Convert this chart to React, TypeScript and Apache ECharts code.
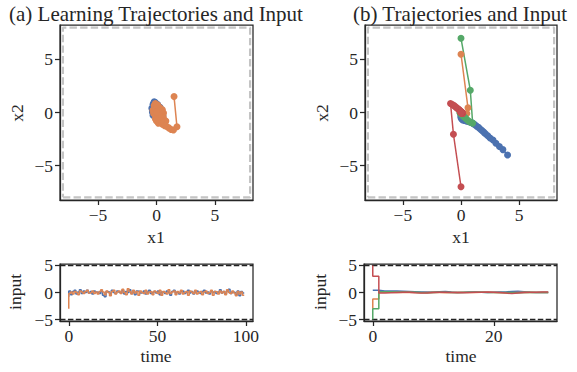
import React, { useEffect, useRef } from "react";
import * as echarts from "echarts";

// ---------- data ----------
const C_BLUE = "#4C72B0";
const C_ORANGE = "#DD8452";
const C_GREEN = "#55A868";
const C_RED = "#C44E52";

const stateBound = 8;
const inputBound = 5;

const phaseTicks = [-5, 0, 5];
const learnTimeTicks = [0, 50, 100];
const evalTimeTicks = [0, 20];
const inputTicks = [-5, 0, 5];

// (a) learning trajectories in phase plane
const learnBlueX = [-0.2, -0.3, -0.4, -0.35, -0.3, -0.1, 0.15, 0.35, 0.45, 0.5, 0.45, 0.3, 0.1, -0.1, -0.25, -0.3, -0.35, -0.2, 0.0, 0.25, 0.4, 0.45, 0.3, 0.15, -0.05, -0.2, -0.25, -0.15, 0.05, 0.25, 0.35, 0.2, 0.0, -0.15, -0.1, 0.1, 0.2, 0.05, 0.5, 0.55, 0.4, 0.2];
const learnBlueY = [1.0, 0.75, 0.4, 0.05, -0.25, -0.45, -0.55, -0.5, -0.3, -0.05, 0.25, 0.5, 0.75, 0.95, 0.85, 0.5, 0.15, -0.2, -0.4, -0.45, -0.2, 0.1, 0.35, 0.55, 0.7, 0.6, 0.3, 0.0, -0.2, -0.3, 0.0, 0.25, 0.4, 0.3, 0.05, -0.1, 0.05, 0.15, -0.5, -0.3, -0.6, -0.65];
const learnOrangeX = [1.5, 1.75, 1.45, 1.25, 1.05, 0.85, 0.7, 0.5, 0.3, 0.15, 0.0, -0.1, 0.1, 0.35, 0.55, 0.4, 0.2, -0.05, -0.2, -0.1, 0.1, 0.3, 0.5, 0.6, 0.45, 0.2, -0.05, -0.25, -0.3, -0.15, 0.05, 0.25, 0.4, 0.3, 0.1, -0.1, -0.2, -0.05, 0.15, 0.25, 0.1, 0.0, 0.6, 0.8, 0.6, 0.4, 0.2, 0.05];
const learnOrangeY = [1.5, -1.35, -1.65, -1.6, -1.45, -1.3, -1.25, -1.1, -0.95, -1.0, -0.8, -0.6, -0.4, -0.55, -0.3, 0.0, 0.2, 0.4, 0.65, 0.85, 0.7, 0.45, 0.25, -0.05, -0.35, -0.5, -0.35, -0.1, 0.2, 0.5, 0.6, 0.35, 0.1, -0.2, -0.3, -0.15, 0.1, 0.3, 0.15, -0.05, -0.1, 0.05, -0.55, -0.8, -0.95, -0.75, -0.6, -0.7];

// (a) learning inputs, t = 0..99
const learnBlueU = [
  -0.8, 0.3, -0.4, 0.2, 0.4, -0.3, 0.1, 0.5, -0.2, 0.3,
  0.0, 0.4, -0.1, 0.2, -0.3, 0.3, 0.1, 0.0, -0.2, 0.3,
  -0.5, -0.8, 0.2, 0.1, -0.3, 0.4, 0.0, -0.2, 0.3, 0.1,
  -0.1, 0.4, -0.3, 0.2, 0.0, 0.5, -0.2, 0.1, -0.4, 0.3,
  0.2, -0.1, 0.0, 0.3, -0.3, 0.1, 0.4, -0.2, 0.0, 0.2,
  -0.1, 0.3, -0.4, 0.1, 0.2, -0.2, 0.3, 0.0, -0.5, 0.2,
  0.4, -0.1, 0.1, -0.3, 0.2, 0.3, -0.2, 0.0, 0.4, -0.1,
  0.2, -0.3, 0.1, 0.3, 0.0, -0.2, 0.2, 0.4, -0.1, 0.1,
  -0.3, 0.3, 0.0, 0.2, -0.2, 0.1, 0.5, -0.1, 0.2, -0.3,
  0.3, 0.6, -0.2, 0.1, 0.0, -0.4, 0.3, -0.6, 0.2, -0.1,
];
const learnOrangeU = [
  -3.0, -0.2, 0.1, -0.3, 0.2, 0.0, -0.4, 0.3, 0.1, -0.2,
  0.2, 0.4, -0.1, 0.0, 0.3, -0.2, 0.1, -0.3, 0.2, 0.5,
  0.1, -0.4, 0.3, 0.0, -0.6, 0.2, 0.4, -0.3, 0.1, 0.3,
  -0.2, 0.6, 0.0, -0.4, 0.7, 0.2, -0.3, 0.4, -0.1, 0.2,
  -0.5, 0.3, 0.0, -0.2, 0.4, -0.3, 0.1, 0.2, -0.4, 0.3,
  0.1, -0.2, 0.4, -0.5, 0.2, 0.0, -0.3, 0.5, -0.2, 0.1,
  0.3, -0.4, 0.2, -0.1, 0.4, -0.3, 0.0, 0.2, -0.5, 0.3,
  0.1, -0.2, 0.4, -0.3, 0.0, 0.2, -0.4, 0.1, 0.3, -0.2,
  0.0, 0.4, -0.5, 0.2, 0.1, -0.3, 0.3, -0.1, 0.2, -0.4,
  0.5, 0.0, -0.2, 0.3, -0.1, -0.6, 0.2, -0.3, 0.1, -0.5,
];

// (b) evaluation trajectories in phase plane (30 steps)
const evalBlueX = [4.0, 3.6, 3.3, 3.0, 2.75, 2.5, 2.3, 2.1, 1.95, 1.8, 1.65, 1.5, 1.35, 1.2, 1.05, 0.9, 0.75, 0.6, 0.45, 0.3, 0.15, 0.05, 0.0, 0.0, 0.0, 0.02, 0.03, 0.03, 0.02, 0.01];
const evalBlueY = [-4.0, -3.5, -3.2, -2.9, -2.6, -2.4, -2.2, -2.0, -1.85, -1.7, -1.55, -1.4, -1.3, -1.15, -1.05, -0.95, -0.9, -0.85, -0.8, -0.75, -0.7, -0.6, -0.5, -0.4, -0.3, -0.22, -0.15, -0.1, -0.06, -0.03];
const evalOrangeX = [0.0, 0.6, 0.5, 0.35, 0.25, 0.15, 0.1, 0.05, 0.03, 0.02, 0.01, 0.0, 0.0, 0.0, 0.0, 0.0, 0.0, 0.0, 0.0, 0.0, 0.0, 0.0, 0.0, 0.0, 0.0, 0.0, 0.0, 0.0, 0.0, 0.0];
const evalOrangeY = [5.5, 0.45, -0.1, -0.25, -0.25, -0.2, -0.15, -0.1, -0.06, -0.04, -0.02, -0.01, 0.0, 0.0, 0.0, 0.0, 0.0, 0.0, 0.0, 0.0, 0.0, 0.0, 0.0, 0.0, 0.0, 0.0, 0.0, 0.0, 0.0, 0.0];
const evalGreenX = [0.0, 0.8, 1.0, 0.85, 0.7, 0.55, 0.4, 0.3, 0.2, 0.12, 0.05, 0.0, -0.05, -0.08, -0.08, -0.06, -0.04, -0.02, -0.01, 0.0, 0.0, 0.0, 0.0, 0.0, 0.0, 0.0, 0.0, 0.0, 0.0, 0.0];
const evalGreenY = [7.0, 2.1, -1.0, -0.95, -0.85, -0.7, -0.55, -0.45, -0.35, -0.25, -0.18, -0.12, -0.08, -0.05, -0.02, 0.0, 0.0, 0.0, 0.0, 0.0, 0.0, 0.0, 0.0, 0.0, 0.0, 0.0, 0.0, 0.0, 0.0, 0.0];
const evalRedX = [0.0, -0.65, -0.9, -0.75, -0.6, -0.48, -0.38, -0.3, -0.2, -0.12, -0.05, 0.0, 0.05, 0.1, 0.15, 0.12, 0.1, 0.08, 0.06, 0.04, 0.03, 0.02, 0.01, 0.0, 0.0, 0.0, 0.0, 0.0, 0.0, 0.0];
const evalRedY = [-7.0, -2.05, 0.85, 0.75, 0.65, 0.55, 0.45, 0.38, 0.3, 0.22, 0.15, 0.08, 0.03, 0.0, -0.1, -0.1, -0.08, -0.06, -0.04, -0.02, -0.01, 0.0, 0.0, 0.0, 0.0, 0.0, 0.0, 0.0, 0.0, 0.0];

// (b) evaluation inputs, t = 0..29
const evalBlueU = [0.4, 0.4, 0.3, 0.3, 0.3, 0.25, 0.2, 0.15, 0.1, 0.1, 0.1, 0.15, 0.2, 0.1, 0.05, 0.05, 0.1, 0.1, 0.05, 0.0, 0.05, 0.1, 0.1, 0.2, 0.25, 0.15, 0.05, 0.0, 0.0, 0.0];
const evalOrangeU = [-3.0, -1.2, 0.1, 0.05, 0.0, 0.0, 0.05, 0.0, -0.05, 0.0, 0.05, 0.0, -0.05, 0.0, 0.05, 0.05, 0.0, 0.0, 0.05, 0.05, 0.0, -0.05, -0.1, -0.05, 0.0, 0.05, 0.0, 0.0, 0.0, 0.0];
const evalGreenU = [-5.0, -3.0, 0.15, 0.15, 0.1, 0.1, 0.05, 0.05, 0.0, -0.05, 0.0, 0.05, 0.05, 0.0, -0.05, 0.0, 0.05, 0.05, 0.05, 0.0, 0.0, 0.0, 0.0, 0.0, -0.05, 0.0, 0.05, 0.0, 0.0, 0.0];
const evalRedU = [5.0, 3.0, -0.1, -0.05, 0.0, 0.05, 0.05, -0.05, -0.1, -0.1, 0.0, 0.05, 0.05, 0.0, -0.05, -0.05, 0.0, 0.05, 0.05, 0.1, 0.05, 0.0, -0.1, -0.2, -0.1, 0.0, 0.05, 0.05, 0.1, 0.1];

// ---------- helpers ----------
const FONT = "'Liberation Serif', 'Times New Roman', serif";
const TXT = "#262626";
const zip = (xs: number[], ys: number[]) => xs.map((x, i) => [x, ys[i]]);
const timed = (us: number[]) => us.map((u, i) => [i, u]);
const fmt = (v: number) => (v < 0 ? "\u2212" + Math.abs(v) : String(v));

const phaseMin = -8.25;
const phaseMax = 8.25;
const uMin = -5.27;
const uMax = 5.27;
const learnTMin = -4.95;
const learnTMax = 103.95;
const evalTMin = -1.45;
const evalTMax = 30.45;

function axis(gridIndex: number, min: number, max: number, ticks: number[], isX: boolean) {
  return {
    type: "value",
    gridIndex,
    min,
    max,
    axisLine: { show: true, onZero: false, lineStyle: { color: TXT, width: 1.25 } },
    splitLine: { show: false },
    axisTick: {
      show: true,
      length: 5,
      customValues: ticks,
      lineStyle: { color: TXT, width: 1.25 },
    },
    axisLabel: {
      show: true,
      customValues: ticks,
      formatter: fmt,
      fontFamily: FONT,
      fontSize: 17.5,
      color: TXT,
      margin: isX ? 6 : 7,
    },
  };
}

function traj(xi: number, yi: number, xs: number[], ys: number[], color: string) {
  return {
    type: "line",
    xAxisIndex: xi,
    yAxisIndex: yi,
    data: zip(xs, ys),
    symbol: "circle",
    symbolSize: 7,
    showSymbol: true,
    lineStyle: { color, width: 1.5 },
    itemStyle: { color },
    z: 3,
  };
}

function stepLine(xi: number, yi: number, us: number[], color: string) {
  return {
    type: "line",
    xAxisIndex: xi,
    yAxisIndex: yi,
    data: timed(us),
    step: "start",
    showSymbol: false,
    symbol: "none",
    lineStyle: { color, width: 1.5 },
    itemStyle: { color },
    z: 3,
  };
}

function boxSeries(xi: number, yi: number) {
  const b = stateBound;
  return {
    type: "line",
    xAxisIndex: xi,
    yAxisIndex: yi,
    data: [[-b, -b], [b, -b], [b, b], [-b, b], [-b, -b]],
    symbol: "none",
    lineStyle: { color: "#c4c4c4", width: 2.2, type: [7.4, 3.2] },
    z: 1,
  };
}

function boundSeries(xi: number, yi: number, tmin: number, tmax: number, level: number) {
  return {
    type: "line",
    xAxisIndex: xi,
    yAxisIndex: yi,
    data: [[tmin, level], [tmax, level]],
    symbol: "none",
    lineStyle: { color: "#222222", width: 1.5, type: [5.5, 2.4] },
    z: 2,
  };
}

function txt(text: string, x: number, y: number, size: number, rotate = false) {
  return {
    type: "text",
    x,
    y,
    rotation: rotate ? Math.PI / 2 : 0,
    style: {
      text,
      fill: TXT,
      font: `${size}px ${FONT}`,
      textAlign: "center",
      textVerticalAlign: "middle",
      align: "center",
      verticalAlign: "middle",
    },
  };
}

export default function App() {
  const ref = useRef<HTMLDivElement>(null);
  useEffect(() => {
    if (!ref.current) return;
    const chart = echarts.init(ref.current, undefined, { renderer: "svg" });
    const gridStyle = { show: true, borderColor: TXT, borderWidth: 1.25, backgroundColor: "transparent" };
    chart.setOption({
      animation: false,
      backgroundColor: "#ffffff",
      grid: [
        { left: 60, top: 25, width: 193, height: 175, ...gridStyle },
        { left: 365, top: 25, width: 192, height: 175, ...gridStyle },
        { left: 60, top: 264, width: 193, height: 57, ...gridStyle },
        { left: 364, top: 264, width: 193, height: 57, ...gridStyle },
      ],
      xAxis: [
        axis(0, phaseMin, phaseMax, phaseTicks, true),
        axis(1, phaseMin, phaseMax, phaseTicks, true),
        axis(2, learnTMin, learnTMax, learnTimeTicks, true),
        axis(3, evalTMin, evalTMax, evalTimeTicks, true),
      ],
      yAxis: [
        axis(0, phaseMin, phaseMax, phaseTicks, false),
        axis(1, phaseMin, phaseMax, phaseTicks, false),
        axis(2, uMin, uMax, inputTicks, false),
        axis(3, uMin, uMax, inputTicks, false),
      ],
      series: [
        boxSeries(0, 0),
        traj(0, 0, learnBlueX, learnBlueY, C_BLUE),
        traj(0, 0, learnOrangeX, learnOrangeY, C_ORANGE),
        boxSeries(1, 1),
        traj(1, 1, evalBlueX, evalBlueY, C_BLUE),
        traj(1, 1, evalOrangeX, evalOrangeY, C_ORANGE),
        traj(1, 1, evalGreenX, evalGreenY, C_GREEN),
        traj(1, 1, evalRedX, evalRedY, C_RED),
        stepLine(2, 2, learnBlueU, C_BLUE),
        stepLine(2, 2, learnOrangeU, C_ORANGE),
        boundSeries(2, 2, learnTMin, learnTMax, inputBound),
        boundSeries(2, 2, learnTMin, learnTMax, -inputBound),
        stepLine(3, 3, evalBlueU, C_BLUE),
        stepLine(3, 3, evalOrangeU, C_ORANGE),
        stepLine(3, 3, evalGreenU, C_GREEN),
        stepLine(3, 3, evalRedU, C_RED),
        boundSeries(3, 3, evalTMin, evalTMax, inputBound),
        boundSeries(3, 3, evalTMin, evalTMax, -inputBound),
      ],
      graphic: [
        txt("(a) Learning Trajectories and Input", 156, 14, 21),
        txt("(b) Trajectories and Input", 460, 14, 21),
        txt("x1", 156, 237, 17.5),
        txt("x1", 461, 237, 17.5),
        txt("x2", 17, 113, 17.5, true),
        txt("x2", 322, 113, 17.5, true),
        txt("input", 15, 292, 17.5, true),
        txt("input", 320, 292, 17.5, true),
        txt("time", 156, 356, 17.5),
        txt("time", 461, 356, 17.5),
      ],
    });
    return () => chart.dispose();
  }, []);
  return (
    <div
      ref={ref}
      style={{ position: "fixed", left: 0, top: 0, width: 577, height: 372, background: "#fff" }}
    />
  );
}
